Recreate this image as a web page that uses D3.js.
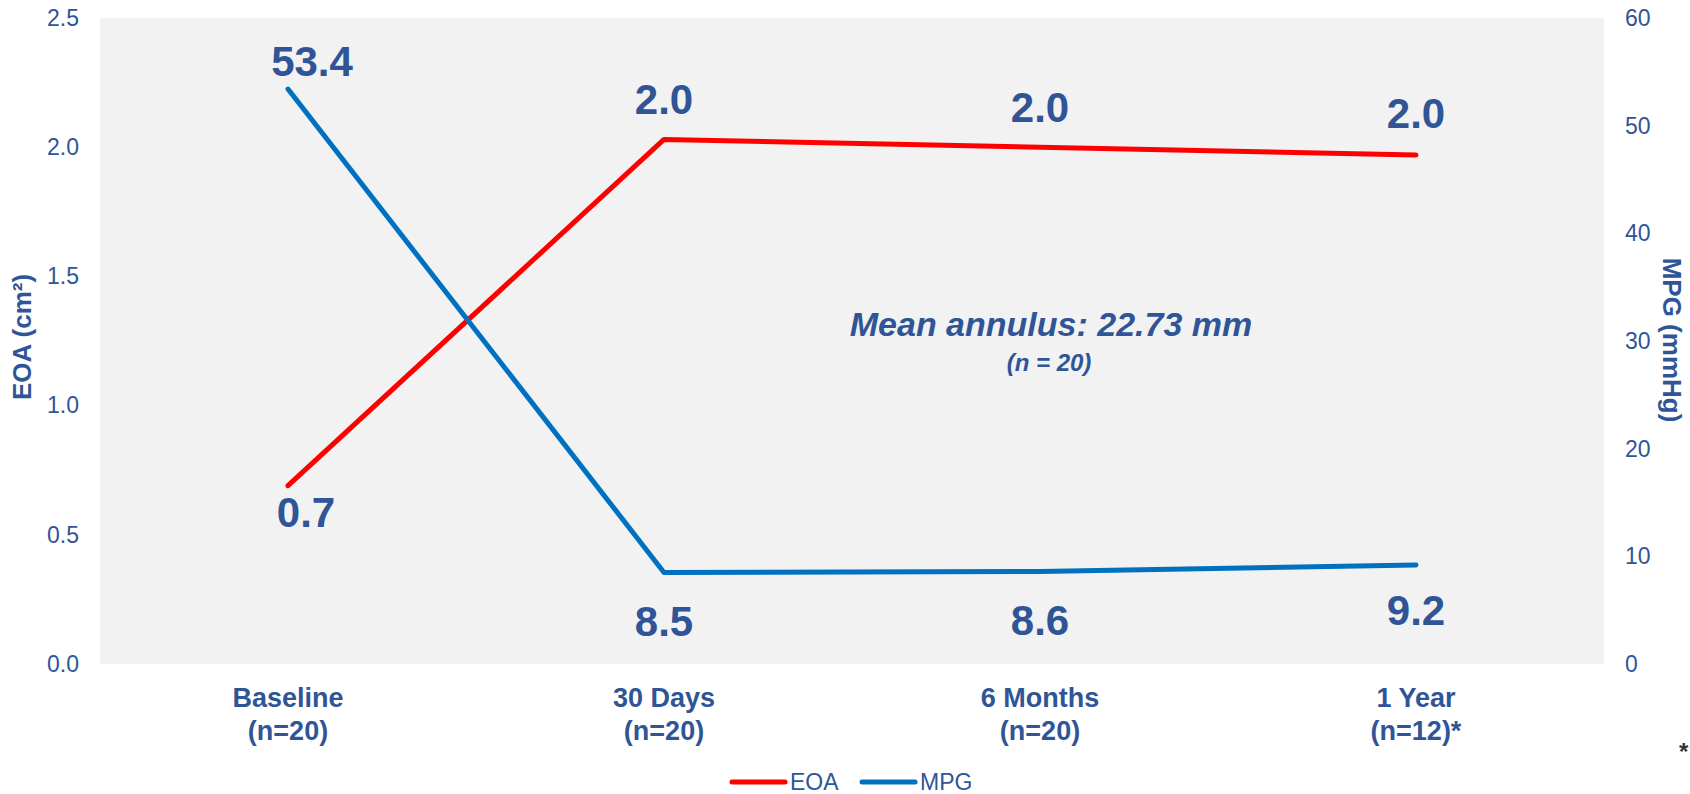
<!DOCTYPE html>
<html>
<head>
<meta charset="utf-8">
<script src="https://cdn.jsdelivr.net/npm/d3@7"></script>
<style>
  html, body { margin: 0; padding: 0; background: #ffffff; }
  svg { display: block; font-family: "Liberation Sans", Arial, sans-serif; }
</style>
</head>
<body>
<svg id="chart" width="1690" height="794"></svg>
<script>
// ---- data ----
const categories = ["Baseline", "30 Days", "6 Months", "1 Year"];
const categorySubLabels = ["(n=20)", "(n=20)", "(n=20)", "(n=12)*"];
const eoaValues = [0.69, 2.03, 2.0, 1.97];
const eoaLabels = ["0.7", "2.0", "2.0", "2.0"];
const mpgValues = [53.4, 8.5, 8.6, 9.2];
const mpgLabels = ["53.4", "8.5", "8.6", "9.2"];
const leftTicks = [0, 0.5, 1.0, 1.5, 2.0, 2.5];
const rightTicks = [0, 10, 20, 30, 40, 50, 60];
const seriesNames = ["EOA", "MPG"];
const annotationMain = "Mean annulus: 22.73 mm";
const annotationSub = "(n = 20)";

// ---- layout / style ----
const plot = { left: 100, right: 1604, top: 18, bottom: 664 };
const textBlue = "#2F5597";
const colors = { EOA: "#FF0000", MPG: "#0070C0" };
const eoaLabelOffset = [[18, 41], [0, -25], [0, -25], [0, -27]];
const mpgLabelOffset = [[24, -13], [0, 64], [0, 64], [0, 60]];

const svg = d3.select("#chart");

const x = d3.scalePoint().domain(categories).range([plot.left, plot.right]).padding(0.5);
const yL = d3.scaleLinear().domain([0, 2.5]).range([plot.bottom, plot.top]);
const yR = d3.scaleLinear().domain([0, 60]).range([plot.bottom, plot.top]);

// plot background
svg.append("rect")
  .attr("x", plot.left).attr("y", plot.top)
  .attr("width", plot.right - plot.left).attr("height", plot.bottom - plot.top)
  .attr("fill", "#F2F2F2");

// left axis
const gL = svg.append("g")
  .attr("transform", `translate(${plot.left - 21},0)`)
  .call(d3.axisLeft(yL).tickValues(leftTicks).tickFormat(d3.format(".1f")).tickSize(0).tickPadding(0));
gL.select(".domain").remove();
gL.selectAll("text").attr("fill", textBlue).style("font-size", "23px")
  .style("font-family", "'Liberation Sans', Arial, sans-serif");

// right axis
const gR = svg.append("g")
  .attr("transform", `translate(${plot.right + 21},0)`)
  .call(d3.axisRight(yR).tickValues(rightTicks).tickFormat(d3.format("d")).tickSize(0).tickPadding(0));
gR.select(".domain").remove();
gR.selectAll("text").attr("fill", textBlue).style("font-size", "23px")
  .style("font-family", "'Liberation Sans', Arial, sans-serif");

// axis titles
svg.append("text")
  .attr("transform", `translate(31,337) rotate(-90)`)
  .attr("text-anchor", "middle")
  .attr("fill", textBlue).style("font-size", "26px").style("font-weight", "bold")
  .text("EOA (cm²)");
svg.append("text")
  .attr("transform", `translate(1663,340) rotate(90)`)
  .attr("text-anchor", "middle")
  .attr("fill", textBlue).style("font-size", "26px").style("font-weight", "bold")
  .text("MPG (mmHg)");

// category labels
const cat = svg.append("g");
categories.forEach((c, i) => {
  const t = cat.append("text")
    .attr("text-anchor", "middle")
    .attr("fill", textBlue).style("font-size", "27px").style("font-weight", "bold");
  t.append("tspan").attr("x", x(c)).attr("y", 707).text(c);
  t.append("tspan").attr("x", x(c)).attr("y", 740).text(categorySubLabels[i]);
});

// lines
const eoaLine = d3.line().x((d, i) => x(categories[i])).y(d => yL(d));
const mpgLine = d3.line().x((d, i) => x(categories[i])).y(d => yR(d));

svg.append("path").datum(eoaValues)
  .attr("d", eoaLine).attr("fill", "none").attr("stroke", colors.EOA)
  .attr("stroke-width", 5).attr("stroke-linecap", "round").attr("stroke-linejoin", "round");
svg.append("path").datum(mpgValues)
  .attr("d", mpgLine).attr("fill", "none").attr("stroke", colors.MPG)
  .attr("stroke-width", 5).attr("stroke-linecap", "round").attr("stroke-linejoin", "round");

// data labels
svg.append("g").selectAll("text").data(eoaValues).join("text")
  .attr("x", (d, i) => x(categories[i]) + eoaLabelOffset[i][0])
  .attr("y", (d, i) => yL(d) + eoaLabelOffset[i][1])
  .attr("text-anchor", "middle")
  .attr("fill", textBlue).style("font-size", "42px").style("font-weight", "bold")
  .text((d, i) => eoaLabels[i]);
svg.append("g").selectAll("text").data(mpgValues).join("text")
  .attr("x", (d, i) => x(categories[i]) + mpgLabelOffset[i][0])
  .attr("y", (d, i) => yR(d) + mpgLabelOffset[i][1])
  .attr("text-anchor", "middle")
  .attr("fill", textBlue).style("font-size", "42px").style("font-weight", "bold")
  .text((d, i) => mpgLabels[i]);

// annotation
svg.append("text")
  .attr("x", 1051).attr("y", 336)
  .attr("text-anchor", "middle")
  .attr("fill", textBlue).style("font-size", "34px").style("font-weight", "bold").style("font-style", "italic")
  .text(annotationMain);
svg.append("text")
  .attr("x", 1049).attr("y", 371)
  .attr("text-anchor", "middle")
  .attr("fill", textBlue).style("font-size", "24px").style("font-weight", "bold").style("font-style", "italic")
  .text(annotationSub);

// legend
const legendX = [732, 862];
seriesNames.forEach((s, i) => {
  const g = svg.append("g").attr("transform", `translate(${legendX[i]},782)`);
  g.append("line").attr("x1", 0).attr("x2", 53).attr("y1", 0).attr("y2", 0)
    .attr("stroke", colors[s]).attr("stroke-width", 5).attr("stroke-linecap", "round");
  g.append("text").attr("x", 58).attr("y", 0).attr("dy", "0.35em")
    .attr("fill", textBlue).style("font-size", "23px").text(s);
});

// footnote asterisk
svg.append("text")
  .attr("x", 1679).attr("y", 760)
  .attr("fill", "#333333").style("font-size", "24px").style("font-weight", "bold")
  .text("*");
</script>
</body>
</html>
